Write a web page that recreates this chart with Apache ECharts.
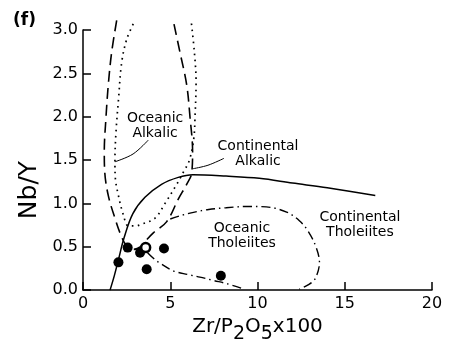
<!DOCTYPE html>
<html>
<head>
<meta charset="utf-8">
<script src="https://cdn.jsdelivr.net/npm/echarts@6/dist/echarts.min.js"></script>
<style>
html,body{margin:0;padding:0;background:#fff;}
#chart{width:452px;height:349px;}
</style>
</head>
<body>
<div id="chart"></div>
<script>
// ---- data ----
var xTicks = [0, 5, 10, 15, 20];
var yTicks = ['0.0', '0.5', '1.0', '1.5', '2.0', '2.5', '3.0'];

// samples (Zr/P2O5x100, Nb/Y)
var samplesFilled = [[2.03, 0.32], [2.56, 0.49], [3.27, 0.43], [4.64, 0.48], [3.65, 0.24], [7.9, 0.165]];
var samplesOpen = [[3.59, 0.49]];

// field boundaries
var solidBoundary = [[1.55, 0], [1.8, 0.17], [2.03, 0.35], [2.35, 0.6], [2.85, 0.88], [3.55, 1.07], [4.5, 1.22], [5.46, 1.30], [6.3, 1.33], [8.2, 1.315], [10.1, 1.29], [12, 1.235], [14, 1.18], [16.75, 1.09]];
var dashedBoundary = [[1.93, 3.11], [1.64, 2.74], [1.45, 2.37], [1.32, 2.0], [1.22, 1.6], [1.25, 1.35], [1.45, 1.09], [1.83, 0.83], [2.22, 0.61], [2.5, 0.51], [2.9, 0.47], [3.3, 0.5], [3.6, 0.57], [4.03, 0.66], [4.8, 0.79], [5.46, 1.05], [5.94, 1.22], [6.23, 1.35], [6.28, 1.6], [6.13, 2.0], [5.94, 2.37], [5.56, 2.74], [5.17, 3.11]];
var dottedBoundary = [[2.88, 3.07], [2.5, 2.89], [2.22, 2.63], [2.03, 2.19], [1.89, 1.82], [1.83, 1.49], [1.85, 1.3], [2.03, 1.09], [2.31, 0.87], [2.6, 0.74], [3.0, 0.74], [3.36, 0.76], [4.13, 0.83], [4.7, 1.0], [5.37, 1.22], [5.75, 1.36], [6.1, 1.5], [6.35, 1.75], [6.42, 2.0], [6.48, 2.4], [6.38, 2.75], [6.2, 3.1]];
var dashDotUpper = [[5.0, 0.82], [5.6, 0.86], [6.4, 0.9], [7.2, 0.93], [8.2, 0.95], [9.5, 0.965], [10.5, 0.96], [11.67, 0.9], [12.4, 0.8], [12.9, 0.68], [13.35, 0.5], [13.55, 0.32], [13.3, 0.13], [12.9, 0.06], [12.4, 0.01]];
var dashDotLower = [[3.7, 0.43], [4.13, 0.35], [4.5, 0.3], [5.2, 0.22], [6.0, 0.18], [6.7, 0.15], [7.5, 0.11], [8.23, 0.075], [9.1, 0.02]];
var leaderOceanicAlkalic = [[3.74, 1.73], [2.87, 1.57], [1.83, 1.48]];
var leaderContinentalAlkalic = [[8.08, 1.52], [7.16, 1.44], [6.30, 1.40]];

// field labels
var fieldNames = ['Oceanic\nAlkalic', 'Continental\nAlkalic', 'Oceanic\nTholeiites', 'Continental\nTholeiites'];
var fieldPos = [[4.13, 1.90], [10.03, 1.57], [9.11, 0.63], [15.87, 0.75]];

var font = 'DejaVu Sans';
var ink = '#000';

function lineSeries(data, type, width, cap) {
  return {
    type: 'line', data: data, showSymbol: false, smooth: 0.35, clip: false, silent: true,
    lineStyle: { color: ink, width: width || 1.4, type: type, cap: cap || 'butt', opacity: 1 },
    z: 2
  };
}

var chart = echarts.init(document.getElementById('chart'), null, { renderer: 'canvas' });
var option = {
  backgroundColor: '#fff',
  animation: false,
  grid: { left: 83, right: 20, top: 30, bottom: 47 },
  xAxis: {
    type: 'value', min: 0, max: 20, interval: 5,
    name: '{a|Zr/P}{s|2}{a|O}{s|5}{a|x100}',
    nameLocation: 'middle', nameGap: 24,
    nameTextStyle: {
      rich: {
        a: { fontFamily: font, fontSize: 20, color: ink, verticalAlign: 'top', lineHeight: 22 },
        s: { fontFamily: font, fontSize: 19, color: ink, verticalAlign: 'top', lineHeight: 22, padding: [8, 0, 0, 0] }
      }
    },
    axisLine: { show: true, lineStyle: { color: ink, width: 1.5 } },
    axisTick: { show: true, inside: true, length: 8, lineStyle: { color: ink, width: 1.5 } },
    splitLine: { show: false },
    axisLabel: {
      margin: 6, fontFamily: font, fontSize: 16, color: ink,
      formatter: function (v) { return xTicks.indexOf(v) >= 0 ? String(v) : ''; }
    }
  },
  yAxis: {
    type: 'value', min: 0, max: 3, interval: 0.5,
    name: 'Nb/Y', nameLocation: 'middle', nameRotate: 90, nameGap: 34,
    nameTextStyle: { fontFamily: font, fontSize: 25, color: ink, padding: [0, 60, 0, 0] },
    axisLine: { show: true, lineStyle: { color: ink, width: 1.5 } },
    axisTick: { show: true, inside: true, length: 8, lineStyle: { color: ink, width: 1.5 } },
    splitLine: { show: false },
    axisLabel: {
      margin: 5, fontFamily: font, fontSize: 16, color: ink,
      formatter: function (v) { return yTicks[Math.round(v / 0.5)]; }
    }
  },
  graphic: [
    { type: 'text', left: 13, top: 12, style: { text: '(f)', fontFamily: font, fontSize: 17, fontWeight: 'bold', fill: ink } }
  ],
  series: [
    lineSeries(solidBoundary, 'solid', 1.5),
    lineSeries(dashedBoundary, [11, 6], 1.6),
    lineSeries(dottedBoundary, [1.6, 4.4], 1.7),
    lineSeries(dashDotUpper, [9, 4, 1.5, 4], 1.4),
    lineSeries(dashDotLower, [9, 4, 1.5, 4], 1.4),
    lineSeries(leaderOceanicAlkalic, 'solid', 1),
    lineSeries(leaderContinentalAlkalic, 'solid', 1),
    {
      type: 'scatter', data: samplesFilled, symbol: 'circle', symbolSize: 10, silent: true, z: 5,
      itemStyle: { color: ink, opacity: 1 }
    },
    {
      type: 'scatter', data: samplesOpen, symbol: 'circle', symbolSize: 9, silent: true, z: 5,
      itemStyle: { color: '#fff', borderColor: ink, borderWidth: 2.5, opacity: 1 }
    },
    {
      type: 'scatter', silent: true, symbolSize: 1, itemStyle: { color: 'rgba(0,0,0,0)' }, z: 6,
      data: fieldNames.map(function (n, i) { return { name: n, value: fieldPos[i] }; }),
      label: {
        show: true, position: 'inside', formatter: function (p) { return p.name; },
        fontFamily: font, fontSize: 14, lineHeight: 15, color: ink, opacity: 1,
        align: 'center', verticalAlign: 'middle'
      }
    }
  ]
};
chart.setOption(option);
</script>
</body>
</html>
